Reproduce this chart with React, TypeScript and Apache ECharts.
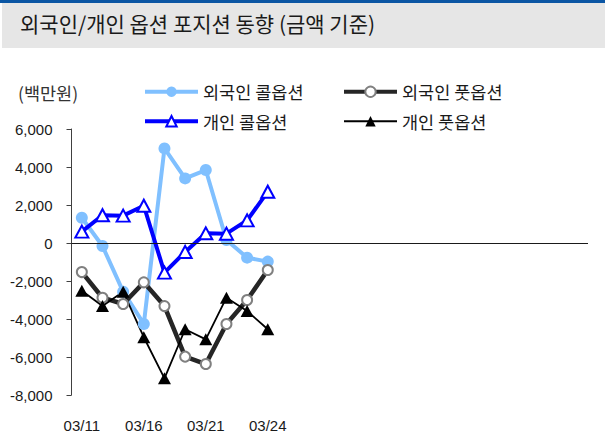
import React, { useEffect, useRef } from "react";
import * as echarts from "echarts";

const categories = ["03/11", "03/12", "03/13", "03/16", "03/17", "03/18", "03/21", "03/22", "03/23", "03/24"];
const foreignCall = [1330, -160, -2560, -4260, 4980, 3400, 3840, 160, -770, -980];
const foreignPut = [-1530, -2880, -3210, -2070, -3320, -5980, -6370, -4260, -3000, -1420];
const indivCall = [600, 1460, 1440, 1960, -1560, -470, 510, 490, 1190, 2700];
const indivPut = [-2510, -3320, -2560, -4960, -7120, -4540, -5070, -2880, -3580, -4540];
const seriesNames = ["외국인 콜옵션", "외국인 풋옵션", "개인 콜옵션", "개인 풋옵션"];
const yTicks = { min: -8000, max: 6000, interval: 2000 };

const TITLE = "외국인/개인 옵션 포지션 동향 (금액 기준)";
const UNIT = "(백만원)";

const NUM_FONT = "'Liberation Sans', Arial, sans-serif";
const KR_FONT = "'Noto Sans CJK KR', 'Noto Sans', sans-serif";

export default function App() {
  const ref = useRef<HTMLDivElement>(null);
  useEffect(() => {
    if (!ref.current) return;
    const chart = echarts.init(ref.current, null, { renderer: "svg" });
    const padCount = 15;
    const axisCats = [...categories, ...Array.from({ length: padCount }, () => "")];
    const legendText = { fontFamily: KR_FONT, fontSize: 17.5, color: "#1a1a1a" };
    const legendBase = {
      orient: "vertical",
      top: 83,
      padding: 0,
      itemWidth: 53,
      itemHeight: 13,
      itemGap: 12,
      textStyle: legendText,
    };
    chart.setOption({
      animation: false,
      backgroundColor: "#ffffff",
      graphic: [
        { type: "rect", left: 0, top: 0, shape: { width: 605, height: 3 }, style: { fill: "#0b56a4" } },
        { type: "rect", left: 2, top: 3, shape: { width: 603, height: 45 }, style: { fill: "#e6e6e6" } },
        {
          type: "text",
          left: 20,
          top: 12,
          style: { text: TITLE, fontFamily: KR_FONT, fontSize: 21, fill: "#1a1a1a" },
        },
        {
          type: "text",
          left: 18,
          top: 84,
          style: { text: UNIT, fontFamily: KR_FONT, fontSize: 17.5, fill: "#333333" },
        },
      ],
      legend: [
        {
          ...legendBase,
          left: 143,
          data: [
            { name: seriesNames[0], lineStyle: { width: 4 } },
            { name: seriesNames[2], lineStyle: { width: 4 } },
          ],
        },
        {
          ...legendBase,
          left: 342,
          data: [
            { name: seriesNames[1], lineStyle: { width: 4 } },
            { name: seriesNames[3], lineStyle: { width: 1.8 } },
          ],
        },
      ],
      grid: { left: 71.5, right: 17, top: 129, bottom: 42, containLabel: false },
      xAxis: {
        type: "category",
        data: axisCats,
        boundaryGap: true,
        axisLine: { show: false, onZero: false },
        axisTick: { show: false },
        axisLabel: {
          interval: 2,
          margin: 23,
          fontFamily: NUM_FONT,
          fontSize: 15,
          color: "#1a1a1a",
        },
        splitLine: { show: false },
      },
      yAxis: {
        type: "value",
        min: yTicks.min,
        max: yTicks.max,
        interval: yTicks.interval,
        axisLine: { show: true, lineStyle: { color: "#404040", width: 1 } },
        axisTick: { show: true, length: 5, lineStyle: { color: "#404040" } },
        axisLabel: {
          margin: 19,
          fontFamily: NUM_FONT,
          fontSize: 15,
          color: "#1a1a1a",
          formatter: (v: number) => v.toLocaleString("en-US"),
        },
        splitLine: { show: false },
      },
      series: [
        {
          name: seriesNames[0],
          type: "line",
          data: foreignCall,
          symbol: "circle",
          symbolSize: 12,
          showAllSymbol: true,
          lineStyle: { color: "#80c0ff", width: 4 },
          itemStyle: { color: "#80c0ff", borderWidth: 0 },
          markLine: {
            silent: true,
            symbol: "none",
            label: { show: false },
            lineStyle: { color: "#1a1a1a", width: 1.2, type: "solid" },
            data: [{ yAxis: 0 }],
          },
        },
        {
          name: seriesNames[1],
          type: "line",
          data: foreignPut,
          symbol: "circle",
          symbolSize: 10,
          showAllSymbol: true,
          lineStyle: { color: "#262626", width: 4.5 },
          itemStyle: { color: "#ffffff", borderColor: "#808080", borderWidth: 2 },
        },
        {
          name: seriesNames[2],
          type: "line",
          data: indivCall,
          symbol: "triangle",
          symbolSize: [13, 12],
          showAllSymbol: true,
          lineStyle: { color: "#0000ff", width: 4 },
          itemStyle: { color: "#ffffff", borderColor: "#0000ff", borderWidth: 2 },
        },
        {
          name: seriesNames[3],
          type: "line",
          data: indivPut,
          symbol: "triangle",
          symbolSize: [13, 12],
          showAllSymbol: true,
          lineStyle: { color: "#000000", width: 1.8 },
          itemStyle: { color: "#000000", borderWidth: 0 },
        },
      ],
    });
    return () => chart.dispose();
  }, []);
  return (
    <div
      ref={ref}
      style={{ position: "fixed", left: 0, top: 0, width: 605, height: 437 }}
    />
  );
}
